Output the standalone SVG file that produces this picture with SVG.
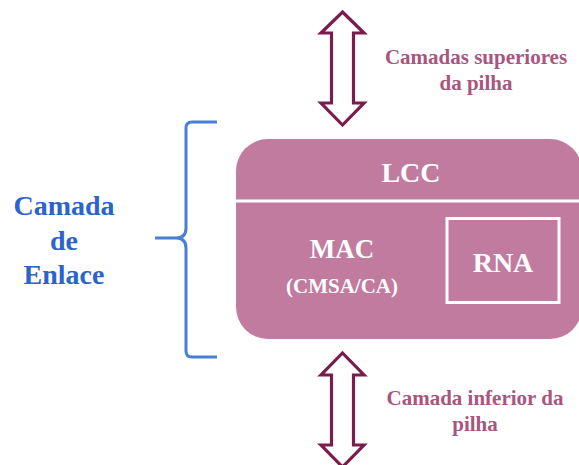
<svg xmlns="http://www.w3.org/2000/svg" width="579" height="465" viewBox="0 0 579 465">
  <style>
    .arrow { fill: #ffffff; stroke: #7a1c4c; stroke-width: 3.2; stroke-linejoin: miter; }
    .note { font-family: "Liberation Serif", "Times New Roman", serif; font-weight: bold; font-size: 21px; fill: #a9567f; text-anchor: middle; }
    .inner { font-family: "Liberation Serif", "Times New Roman", serif; font-weight: bold; fill: #ffffff; text-anchor: middle; }
    .side { font-family: "Liberation Serif", "Times New Roman", serif; font-weight: bold; font-size: 28px; fill: #2a64cc; text-anchor: middle; }
    .brace { fill: none; stroke: #4a7fd6; stroke-width: 3; stroke-linejoin: round; stroke-linecap: butt; }
  </style>

  <!-- link layer block -->
  <g id="link-layer">
    <rect x="236" y="139" width="346" height="200" rx="32" ry="32" fill="#c17b9f"/>
    <line x1="236" y1="201" x2="582" y2="201" stroke="#ffffff" stroke-width="3"/>
  </g>

  <g id="lcc">
    <text class="inner" x="411" y="182" font-size="28">LCC</text>
  </g>

  <g id="mac">
    <text class="inner" x="342" y="258" font-size="27">MAC</text>
    <text class="inner" x="342" y="293" font-size="21">(CMSA/CA)</text>
  </g>

  <g id="rna">
    <rect x="447" y="218.5" width="112" height="84" fill="none" stroke="#ffffff" stroke-width="3"/>
    <text class="inner" x="503" y="272" font-size="28">RNA</text>
  </g>

  <!-- brace and its label -->
  <g id="enlace">
    <path class="brace" d="M217,122 L192,122 Q186,122 186,128 L186,228 Q186,238 176,238 L155,238 M176,238 Q186,238 186,248 L186,351 Q186,357 192,357 L217,357"/>
    <text class="side" x="64" y="215">Camada</text>
    <text class="side" x="64" y="250">de</text>
    <text class="side" x="64" y="284">Enlace</text>
  </g>

  <!-- two-way arrows to neighbouring layers -->
  <g id="connectors">
    <path class="arrow" d="M342.5,12 L364,33 L353.5,33 L353.5,103 L364,103 L342.5,125 L321,103 L331.5,103 L331.5,33 L321,33 Z"/>
    <path class="arrow" d="M342.5,353 L364,375 L353.5,375 L353.5,445 L364,445 L342.5,467 L321,445 L331.5,445 L331.5,375 L321,375 Z"/>
  </g>

  <g id="upper-label">
    <text class="note" x="476" y="64">Camadas superiores</text>
    <text class="note" x="476" y="90">da pilha</text>
  </g>

  <g id="lower-label">
    <text class="note" x="475" y="405">Camada inferior da</text>
    <text class="note" x="475" y="431">pilha</text>
  </g>
</svg>
